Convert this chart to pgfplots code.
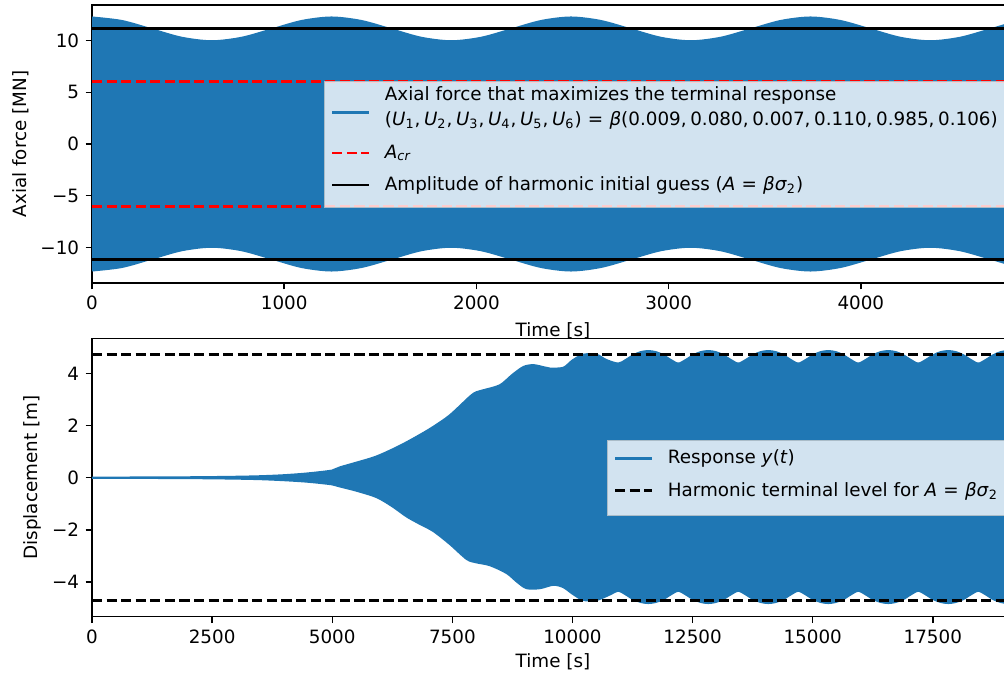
\documentclass[border=0pt]{standalone}
\usepackage{fontspec}
\setmainfont{DejaVu Sans}[ItalicFont={DejaVu Sans Oblique}]
\usepackage{pgfplots}
\pgfplotsset{compat=1.18}
\definecolor{mplblue}{RGB}{31,119,180}
\definecolor{legedge}{RGB}{170,188,200}
\newcommand{\eqs}{\hspace{3.4pt}=\hspace{3.4pt}}
\pgfplotsset{
  myaxis/.style={
    scale only axis, width=502.95pt, height=151.65pt,
    tick pos=left, tick align=outside, major tick length=3.5pt,
    every tick/.append style={black, line width=0.8pt},
    axis line style={line width=0.8pt},
    tick label style={font=\fontsize{10}{12}\selectfont},
    label style={font=\fontsize{10}{12}\selectfont},
    /pgf/number format/assume math mode=true,
    scaled x ticks=false, scaled y ticks=false,
    legend style={at={(1,0.5)}, anchor=east, xshift=-5pt, fill=white, fill opacity=0.8, text opacity=1, draw=legedge, font=\fontsize{10}{12}\selectfont, row sep=0pt, column sep=8pt, inner xsep=3.6pt, inner ysep=2pt, cells={anchor=base west}, nodes={inner sep=0pt, text depth=}},
  },
  limg/.style={legend image code/.code={\draw[#1, line width=1.5pt, draw opacity=1] (0pt,2.9pt) -- (20pt,2.9pt);}},
}
\begin{document}
\begin{tikzpicture}
% ---------------- top axis ----------------
\begin{axis}[myaxis, at={(50.19pt,214.38pt)}, anchor=south west,
  xmin=0, xmax=4797, ymin=-13.45, ymax=13.45,
  xtick={0,1000,2000,3000,4000}, xticklabels={0,1000,2000,3000,4000},
  ytick={-10,-5,0,5,10}, yticklabels={−10,−5,0,5,10},
  xlabel={Time [s]}, ylabel={Axial force [MN]},
  every axis x label/.style={at={(axis description cs:0.5,-0.1716)}, anchor=center},
  every axis y label/.style={at={(axis description cs:-0.0773,0.5)}, rotate=90, anchor=center},
]
\addplot[fill=mplblue, draw=mplblue, line width=1pt, smooth, forget plot] coordinates {
(0,12.25) (156,11.91) (312,11.10) (467,10.29) (623,9.95) (779,10.29) (935,11.10) (1090,11.91)
(1246,12.25) (1402,11.91) (1558,11.10) (1713,10.29) (1869,9.95) (2025,10.29) (2181,11.10) (2336,11.91)
(2492,12.25) (2648,11.91) (2804,11.10) (2959,10.29) (3115,9.95) (3271,10.29) (3427,11.10) (3582,11.91)
(3738,12.25) (3894,11.91) (4050,11.10) (4205,10.29) (4361,9.95) (4517,10.29) (4673,11.10) (4828,11.91)
(4984,12.25)
(4984,-12.25) (4828,-11.91) (4673,-11.10) (4517,-10.29) (4361,-9.95) (4205,-10.29) (4050,-11.10) (3894,-11.91)
(3738,-12.25) (3582,-11.91) (3427,-11.10) (3271,-10.29) (3115,-9.95) (2959,-10.29) (2804,-11.10) (2648,-11.91)
(2492,-12.25) (2336,-11.91) (2181,-11.10) (2025,-10.29) (1869,-9.95) (1713,-10.29) (1558,-11.10) (1402,-11.91)
(1246,-12.25) (1090,-11.91) (935,-11.10) (779,-10.29) (623,-9.95) (467,-10.29) (312,-11.10) (156,-11.91)
(0,-12.25)} -- cycle;
\addplot[red, line width=1.5pt, dash pattern=on 5.55pt off 2.4pt, forget plot] coordinates {(0,6.05) (4797,6.05)};
\addplot[red, line width=1.5pt, dash pattern=on 5.55pt off 2.4pt, forget plot] coordinates {(0,-6.05) (4797,-6.05)};
\addplot[black, line width=1.5pt, forget plot] coordinates {(0,11.15) (4797,11.15)};
\addplot[black, line width=1.5pt, forget plot] coordinates {(0,-11.15) (4797,-11.15)};
\addlegendimage{legend image code/.code={\draw[overlay, mplblue, line width=1.5pt, draw opacity=1] (0pt,-6.8pt) -- (20pt,-6.8pt);}}
\addlegendentry{\rule[-5.1pt]{0pt}{13.6pt}Axial force that maximizes the terminal response}
\addlegendimage{legend image code/.code={}}
\addlegendentry{\rule[-9.5pt]{0pt}{18pt}(\textit{U}\textsubscript{1},\hspace{2pt}\textit{U}\textsubscript{2},\hspace{2pt}\textit{U}\textsubscript{3},\hspace{2pt}\textit{U}\textsubscript{4},\hspace{2pt}\textit{U}\textsubscript{5},\hspace{2pt}\textit{U}\textsubscript{6})\eqs\textit{β}(0.009,\hspace{2pt}0.080,\hspace{2pt}0.007,\hspace{2pt}0.110,\hspace{2pt}0.985,\hspace{2pt}0.106)}
\addlegendimage{legend image code/.code={\draw[red, line width=1.5pt, draw opacity=1, dash pattern=on 5.55pt off 2.4pt] (0pt,2.9pt) -- (20pt,2.9pt);}}
\addlegendentry{\rule[-9pt]{0pt}{17.5pt}\textit{A}\textsubscript{\textit{cr}}}
\addlegendimage{legend image code/.code={\draw[black, line width=1.5pt, draw opacity=1] (0pt,2.9pt) -- (20pt,2.9pt);}}
\addlegendentry{\rule[-7.1pt]{0pt}{15.6pt}Amplitude of harmonic initial guess (\textit{A}\eqs\textit{βσ}\textsubscript{2})}
\end{axis}
% ---------------- bottom axis ----------------
\begin{axis}[myaxis, at={(50.19pt,32.35pt)}, anchor=south west,
  xmin=0, xmax=19190, ymin=-5.33, ymax=5.33,
  xtick={0,2500,5000,7500,10000,12500,15000,17500}, xticklabels={0,2500,5000,7500,10000,12500,15000,17500},
  ytick={-4,-2,0,2,4}, yticklabels={−4,−2,0,2,4},
  xlabel={Time [s]}, ylabel={Displacement [m]},
  every axis x label/.style={at={(axis description cs:0.5,-0.163)}, anchor=center},
  every axis y label/.style={at={(axis description cs:-0.0647,0.5)}, rotate=90, anchor=center},
]
\addplot[fill=mplblue, draw=mplblue, line width=1pt, smooth, forget plot] coordinates {
(0,0.008) (1000,0.012) (2000,0.02) (2500,0.028) (3000,0.04) (3500,0.06) (4000,0.10) (4500,0.17) (5000,0.28)
(5160,0.40) (5500,0.58) (5925,0.82) (6400,1.22) (6800,1.62) (7100,1.95) (7450,2.40) (7870,3.12) (8000,3.28)
(8150,3.36) (8490,3.55) (8750,3.95) (8980,4.25) (9185,4.32) (9400,4.24) (9530,4.19) (9810,4.22) (10000,4.50)
(10225,4.72) (10500,4.72) (10700,4.52)
(10953,4.38) (11109,4.52) (11265,4.70) (11421,4.82) (11577,4.86) (11734,4.82) (11890,4.70) (12046,4.52)
(12202,4.38) (12358,4.52) (12514,4.70) (12670,4.82) (12826,4.86) (12982,4.82) (13138,4.70) (13295,4.52)
(13451,4.38) (13607,4.52) (13763,4.70) (13919,4.82) (14075,4.86) (14231,4.82) (14387,4.70) (14543,4.52)
(14700,4.38) (14856,4.52) (15012,4.70) (15168,4.82) (15324,4.86) (15480,4.82) (15636,4.70) (15792,4.52)
(15948,4.38) (16104,4.52) (16260,4.70) (16417,4.82) (16573,4.86) (16729,4.82) (16885,4.70) (17041,4.52)
(17197,4.38) (17353,4.52) (17509,4.70) (17665,4.82) (17822,4.86) (17978,4.82) (18134,4.70) (18290,4.52)
(18446,4.38) (18602,4.52) (18758,4.70) (18914,4.82) (19070,4.86) (19226,4.82)
(19226,-4.77) (19070,-4.81) (18914,-4.77) (18758,-4.66) (18602,-4.48)
(18446,-4.34) (18290,-4.48) (18134,-4.66) (17978,-4.77) (17822,-4.81) (17665,-4.77) (17509,-4.66) (17353,-4.48)
(17197,-4.34) (17041,-4.48) (16885,-4.66) (16729,-4.77) (16573,-4.81) (16417,-4.77) (16260,-4.66) (16104,-4.48)
(15948,-4.34) (15792,-4.48) (15636,-4.66) (15480,-4.77) (15324,-4.81) (15168,-4.77) (15012,-4.66) (14856,-4.48)
(14700,-4.34) (14543,-4.48) (14387,-4.66) (14231,-4.77) (14075,-4.81) (13919,-4.77) (13763,-4.66) (13607,-4.48)
(13451,-4.34) (13295,-4.48) (13138,-4.66) (12982,-4.77) (12826,-4.81) (12670,-4.77) (12514,-4.66) (12358,-4.48)
(12202,-4.34) (12046,-4.48) (11890,-4.66) (11734,-4.77) (11577,-4.81) (11421,-4.77) (11265,-4.66) (11109,-4.48)
(10953,-4.34)
(10780,-4.48) (10503,-4.69) (10225,-4.69)
(10000,-4.45) (9809,-4.20) (9601,-4.11) (9324,-4.24) (9046,-4.24) (8850,-4.00) (8630,-3.66) (8283,-3.36) (8000,-3.25)
(7798,-3.12) (7450,-2.55) (7104,-2.05) (6800,-1.75) (6548,-1.49) (6250,-1.10) (5925,-0.75) (5500,-0.50) (5160,-0.34)
(5000,-0.26) (4500,-0.16) (4000,-0.10) (3500,-0.06) (3000,-0.04) (2500,-0.028) (2000,-0.02) (1000,-0.012) (0,-0.008)} -- cycle;
\addplot[black, line width=1.5pt, dash pattern=on 5.55pt off 2.4pt, forget plot] coordinates {(0,4.72) (19190,4.72)};
\addplot[black, line width=1.5pt, dash pattern=on 5.55pt off 2.4pt, forget plot] coordinates {(0,-4.72) (19190,-4.72)};
\addlegendimage{legend image code/.code={\draw[mplblue, line width=1.5pt, draw opacity=1] (0pt,2.9pt) -- (20pt,2.9pt);}}
\addlegendentry{\rule[-9pt]{0pt}{20pt}Response \textit{y}(\textit{t})}
\addlegendimage{legend image code/.code={\draw[black, line width=1.5pt, draw opacity=1, dash pattern=on 5.55pt off 2.4pt] (0pt,2.9pt) -- (20pt,2.9pt);}}
\addlegendentry{\rule[-8.5pt]{0pt}{17pt}Harmonic terminal level for \textit{A}\eqs\textit{βσ}\textsubscript{2}}
\end{axis}
\pgfresetboundingbox
\useasboundingbox (0,0) rectangle (547.68pt,368.76pt);
\end{tikzpicture}
\end{document}
